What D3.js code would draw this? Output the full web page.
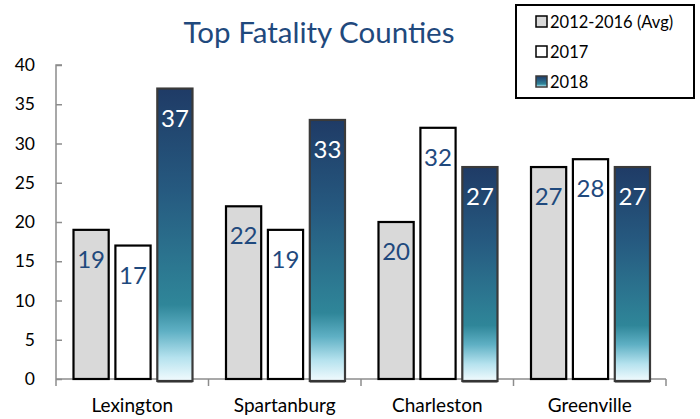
<!DOCTYPE html>
<html lang="en">
<head>
<meta charset="UTF-8" />
<title>Top Fatality Counties</title>
<script src="https://d3js.org/d3.v7.min.js"></script>
<style>
  body { margin: 0; background: #fff; font-family: Lato, 'Open Sans', sans-serif; }
  svg { display: block; }
</style>
</head>
<body>
<div id="chart"></div>
<script>
const counties = ['Lexington', 'Spartanburg', 'Charleston', 'Greenville'];
const seriesNames = ['2012-2016 (Avg)', '2017', '2018'];
const avg2012_2016 = [19, 22, 20, 27];
const y2017 = [17, 19, 32, 28];
const y2018 = [37, 33, 27, 27];
const yTicks = [0, 5, 10, 15, 20, 25, 30, 35, 40];

const width = 700, height = 419;
const margin = { left: 56, right: 34, top: 65, bottom: 40 };

const svg = d3.select('#chart').append('svg')
  .attr('width', width).attr('height', height);

// gradient for the 2018 bars
const defs = svg.append('defs');
const grad = defs.append('linearGradient')
  .attr('id', 'g2018').attr('x1', 0).attr('y1', 0).attr('x2', 0).attr('y2', 1);
[[0, '#1f3b66'], [0.35, '#265a80'], [0.74, '#2f8699'], [0.83, '#5fb0c4'], [0.92, '#b5e2ee'], [1, '#f2fbfe']]
  .forEach(([o, c]) => grad.append('stop').attr('offset', o).attr('stop-color', c));

const x0 = d3.scaleBand().domain(counties).range([margin.left, width - margin.right]);
const x1 = d3.scaleBand().domain(seriesNames).range([17.5, 136.5]).paddingInner(0.16);
const y = d3.scaleLinear().domain([0, 40]).range([height - margin.bottom, margin.top]);

const series = [
  { name: seriesNames[0], values: avg2012_2016, fill: '#d9d9d9', stroke: '#000', label: '#1f497d' },
  { name: seriesNames[1], values: y2017, fill: '#fff', stroke: '#000', label: '#1f497d' },
  { name: seriesNames[2], values: y2018, fill: 'url(#g2018)', stroke: '#3a3a3a', label: '#fff' }
];

// axes
const yAxis = svg.append('g')
  .attr('transform', `translate(${margin.left},0)`)
  .call(d3.axisRight(y).tickValues(yTicks).tickSize(6).tickFormat(''));
yAxis.select('.domain').attr('stroke', '#8c8c8c').attr('stroke-width', 1.5)
  .attr('d', `M6,${y(40)}H0V${y(0)}`);
yAxis.selectAll('.tick line').attr('stroke', '#8c8c8c').attr('stroke-width', 1.5);

svg.append('g').selectAll('text').data(yTicks).join('text')
  .attr('x', 35).attr('y', d => y(d)).attr('dy', '0.35em')
  .attr('text-anchor', 'end').attr('font-size', 17.5).attr('fill', '#000')
  .text(d => d);

const xAxis = svg.append('g').attr('transform', `translate(0,${y(0)})`);
xAxis.append('line')
  .attr('x1', margin.left).attr('x2', width - margin.right)
  .attr('stroke', '#8c8c8c').attr('stroke-width', 1.5);
const bounds = counties.map(c => x0(c)).concat([x0(counties[3]) + x0.bandwidth()]);
xAxis.selectAll('.xt').data(bounds).join('line')
  .attr('x1', d => d).attr('x2', d => d).attr('y1', 0).attr('y2', 7)
  .attr('stroke', '#8c8c8c').attr('stroke-width', 1.5);
xAxis.selectAll('.xl').data(counties).join('text')
  .attr('x', d => x0(d) + x0.bandwidth() / 2).attr('y', 33)
  .attr('text-anchor', 'middle').attr('font-size', 19).attr('fill', '#000')
  .text(d => d);

// bars
series.forEach((s, si) => {
  const g = svg.append('g');
  const is2018 = si === 2;
  g.selectAll('rect').data(s.values).join('rect')
    .attr('x', (d, i) => x0(counties[i]) + x1(s.name))
    .attr('y', d => y(d))
    .attr('width', x1.bandwidth())
    .attr('height', d => y(0) - y(d) + (is2018 ? 2 : 0))
    .attr('fill', s.fill)
    .attr('stroke', s.stroke)
    .attr('stroke-width', 2.2);
  if (is2018) {
    g.selectAll('.base').data(s.values).join('line')
      .attr('x1', (d, i) => x0(counties[i]) + x1(s.name))
      .attr('x2', (d, i) => x0(counties[i]) + x1(s.name) + x1.bandwidth())
      .attr('y1', y(0) + 2.5).attr('y2', y(0) + 2.5)
      .attr('stroke', '#333').attr('stroke-width', 2);
  }
  g.selectAll('text').data(s.values).join('text')
    .attr('x', (d, i) => x0(counties[i]) + x1(s.name) + x1.bandwidth() / 2)
    .attr('y', d => y(d) + 38)
    .attr('text-anchor', 'middle').attr('font-size', 24)
    .attr('fill', s.label)
    .text(d => d);
});

// title
svg.append('text')
  .attr('x', 319).attr('y', 43).attr('text-anchor', 'middle')
  .attr('font-size', 29.5).attr('fill', '#1f497d')
  .text('Top Fatality Counties');

// legend
const lg = svg.append('g');
lg.append('rect').attr('x', 516).attr('y', 5).attr('width', 178).attr('height', 93)
  .attr('fill', '#fff').attr('stroke', '#000').attr('stroke-width', 2);
const items = lg.selectAll('.item').data(series).join('g')
  .attr('transform', (d, i) => `translate(536,${22 + i * 30})`);
items.append('rect').attr('x', 0).attr('y', -6).attr('width', 11).attr('height', 11)
  .attr('fill', d => d.fill).attr('stroke', d => d.stroke).attr('stroke-width', 1.5);
items.append('text').attr('x', 14).attr('dy', '0.35em').attr('font-size', 16.5)
  .attr('fill', '#000').text(d => d.name);
</script>
</body>
</html>
